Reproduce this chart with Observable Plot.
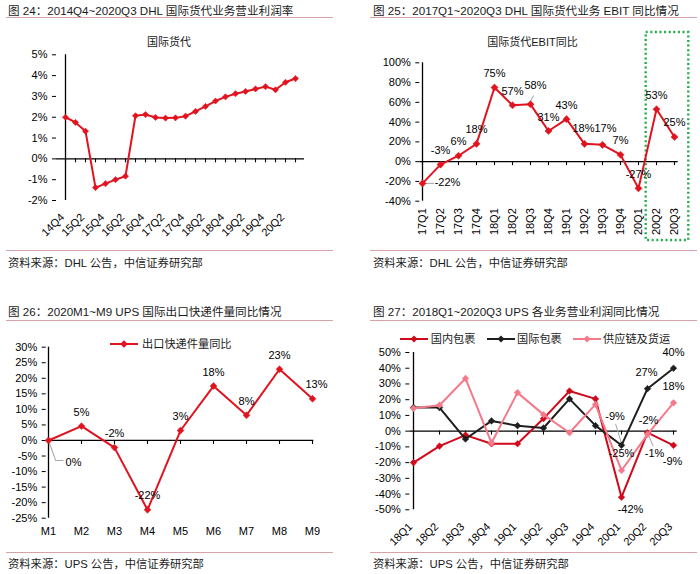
<!DOCTYPE html>
<html><head><meta charset="utf-8">
<script src="https://cdn.jsdelivr.net/npm/d3@7"></script>
<script src="https://cdn.jsdelivr.net/npm/@observablehq/plot@0.6"></script>
<style>
body{margin:0;background:#fff;}
#wrap{position:relative;width:700px;height:574px;overflow:hidden;font-family:"Liberation Sans","Noto Sans CJK SC",sans-serif;color:#1a1a1a;}
.abs{position:absolute;white-space:nowrap;}
.hdr{font-size:11.6px;line-height:14px;}
.rule{position:absolute;height:1.3px;background:#d9a2a8;}
.src{font-size:11.3px;line-height:14px;}
.ttl{font-size:11px;line-height:14px;transform:translateX(-50%);}
.leg{font-size:11.2px;line-height:14px;}
.panel{position:absolute;width:350px;height:287px;}
</style></head>
<body><div id="wrap"></div>
<script>
// ---------- data ----------
const q1 = ["14Q4","15Q1","15Q2","15Q3","15Q4","16Q1","16Q2","16Q3","16Q4","17Q1","17Q2","17Q3","17Q4","18Q1","18Q2","18Q3","18Q4","19Q1","19Q2","19Q3","19Q4","20Q1","20Q2","20Q3"];
const margin1 = [2.0,1.75,1.33,-1.38,-1.19,-1.0,-0.83,2.07,2.13,1.99,1.96,1.97,2.05,2.28,2.52,2.78,2.98,3.13,3.24,3.36,3.47,3.32,3.68,3.86];
const q1Labels = ["14Q4","15Q2","15Q4","16Q2","16Q4","17Q2","17Q4","18Q2","18Q4","19Q2","19Q4","20Q2"];
const y1Ticks = [-2,-1,0,1,2,3,4,5];

const q2 = ["17Q1","17Q2","17Q3","17Q4","18Q1","18Q2","18Q3","18Q4","19Q1","19Q2","19Q3","19Q4","20Q1","20Q2","20Q3"];
const ebit2 = [-22,-3,6,18,75,57,58,31,43,18,17,7,-27,53,25];
const y2Ticks = [-40,-20,0,20,40,60,80,100];

const m3 = ["M1","M2","M3","M4","M5","M6","M7","M8","M9"];
const export3 = [0,4.6,-2.3,-22.3,3.2,17.5,8.1,22.9,13.4];
const y3Ticks = [-25,-20,-15,-10,-5,0,5,10,15,20,25,30];
const series3 = "出口快递件量同比";

const q4 = ["18Q1","18Q2","18Q3","18Q4","19Q1","19Q2","19Q3","19Q4","20Q1","20Q2","20Q3"];
const domestic4 = [-20,-9.5,-2.5,-8,-8,8,25.5,20.5,-42,-1,-9];
const intl4 = [15,15,-5,6.5,3.5,2,20.5,3.5,-9,27,40];
const supply4 = [14.5,16.5,33.5,-7.5,24.5,10.5,-1,17,-25,-2,18];
const series4 = ["国内包裹","国际包裹","供应链及货运"];
const y4Ticks = [-50,-40,-30,-20,-10,0,10,20,30,40,50];

const headers = [
  "图 24：2014Q4~2020Q3 DHL 国际货代业务营业利润率",
  "图 25：2017Q1~2020Q3 DHL 国际货代业务 EBIT 同比情况",
  "图 26：2020M1~M9 UPS 国际出口快递件量同比情况",
  "图 27：2018Q1~2020Q3 UPS 各业务营业利润同比情况"
];
const sources = ["资料来源：DHL 公告，中信证券研究部","资料来源：DHL 公告，中信证券研究部","资料来源：UPS 公告，中信证券研究部","资料来源：UPS 公告，中信证券研究部"];
const titles = ["国际货代","国际货代EBIT同比"];

// ---------- styling ----------
const RED = "#e0131f", RED4 = "#d0091b", BLACK = "#1e1e1e", PINK = "#f47a8a", GREEN = "#22ad4a", GRAY = "#a6a6a6";
const FONT = '"Liberation Sans","Noto Sans CJK SC",sans-serif';
const pct = v => Math.round(v) + "%";
const rows = (cats, vals) => cats.map((c, i) => ({c, v: vals[i]}));

const wrap = document.getElementById("wrap");
function add(html, cls, style) {
  const d = document.createElement("div");
  d.className = cls; d.setAttribute("style", style); d.innerHTML = html;
  wrap.appendChild(d); return d;
}
function panel(left, top, opts, marks) {
  const p = Plot.plot({
    width: 350, height: 287,
    marginLeft: opts.ml, marginRight: opts.mr, marginTop: opts.mt, marginBottom: opts.mb,
    x: {type: "point", domain: opts.xdom, padding: 0},
    y: {domain: opts.ydom},
    style: {fontFamily: FONT, fontSize: "11px", background: "transparent", overflow: "visible", color: "#000"},
    marks
  });
  const d = document.createElement("div");
  d.className = "panel"; d.style.left = left + "px"; d.style.top = top + "px";
  d.appendChild(p); wrap.appendChild(d);
}
function frameMarks(cats, yticks, tickLen, xAxis) {
  return [
    Plot.ruleY([0], {stroke: "#000", strokeWidth: 1.3}),
    Plot.ruleX(cats, {x: d => d, y1: 0, y2: -tickLen, stroke: "#000", strokeWidth: 1.1}),
    Plot.ruleX([cats[0]], {stroke: "#000", strokeWidth: 1.3}),
    Plot.axisY({ticks: yticks, tickFormat: d => d + "%", tickSize: 4, tickPadding: 5, fontSize: 11, label: null}),
    Plot.axisX({tickSize: 0, label: null, fontSize: 11, ...xAxis})
  ];
}
function series(data, color, r) {
  return [
    Plot.line(data, {x: "c", y: "v", stroke: color, strokeWidth: 2}),
    Plot.dot(data, {x: "c", y: "v", symbol: "diamond2", r, fill: color, stroke: color, strokeWidth: 0.5})
  ];
}
function label(data, cat, dx, dy) {
  return Plot.text(data.filter(d => d.c === cat), {x: "c", y: "v", text: d => pct(d.v), dx, dy, fontSize: 11, fill: "#000"});
}
function leader(data, cat, o) {
  return Plot.vector(data.filter(d => d.c === cat), {x: "c", y: "v", anchor: "start", r: 0, stroke: GRAY, strokeWidth: 1, ...o});
}

// ---------- panel 1 ----------
const d1 = rows(q1, margin1);
panel(0, 0, {ml: 56, mr: 46, mt: 54.3, mb: 87, xdom: q1, ydom: [-2, 5]}, [
  ...frameMarks(q1, y1Ticks, 0.19, {ticks: q1Labels, tickRotate: -45, tickPadding: 15, dx: -3}),
  ...series(d1, RED, 2.8)
]);

// ---------- panel 2 ----------
const d2 = rows(q2, ebit2);
const nudge2 = {"17Q1": [25, -1], "18Q3": [5, -19], "19Q2": [-1, -15], "19Q3": [3, -16]};
panel(350, 0, {ml: 69.3, mr: 22.3, mt: 62.3, mb: 86.3, xdom: q2, ydom: [-40, 100]}, [
  ...frameMarks(q2, y2Ticks, 4, {tickRotate: -90, tickPadding: 7}),
  Plot.rect([{a: q2[13], b: q2[14]}], {x1: "a", x2: "b", insetLeft: -10.3, insetRight: -14.3, insetTop: -30.3, insetBottom: -39.3, fill: "none", stroke: GREEN, strokeWidth: 2.4, strokeDasharray: "2,2.6"}),
  leader(d2, "17Q1", {length: 10, rotate: 90, dx: 1}),
  leader(d2, "18Q3", {length: 6, rotate: 28, dy: -3}),
  ...series(d2, RED, 3.2),
  ...q2.map(c => label(d2, c, ...(nudge2[c] || [0, -14])))
]);

// ---------- panel 3 ----------
const d3r = rows(m3, export3);
const nudge3 = {"M1": [25, 22], "M9": [4, -14]};
panel(0, 287, {ml: 45.7, mr: 36.7, mt: 59.7, mb: 56.3, xdom: m3, ydom: [-25, 30]}, [
  ...frameMarks(m3, y3Ticks, 1.3, {tickPadding: 9}),
  leader(d3r, "M1", {length: 18, rotate: 160, dx: 1, dy: 3}),
  leader(d3r, "M1", {length: 7, rotate: 90, dx: 7.3, dy: 20}),
  ...series(d3r, RED, 3.1),
  ...m3.map(c => label(d3r, c, ...(nudge3[c] || [0, -14])))
]);
// legend 3
add(`<svg width="28" height="14"><line x1="0" y1="7" x2="28" y2="7" stroke="${RED}" stroke-width="2"/><path d="M14,3.3L17.7,7L14,10.7L10.3,7Z" fill="${RED}"/></svg>`, "abs", "left:110px;top:337px;");
add(series3, "abs leg", "left:142px;top:337px;");

// ---------- panel 4 ----------
const dd = rows(q4, domestic4), di = rows(q4, intl4), ds = rows(q4, supply4);
panel(350, 287, {ml: 59.3, mr: 23.3, mt: 65, mb: 64.7, xdom: q4, ydom: [-50, 50]}, [
  ...frameMarks(q4, y4Ticks, 2.5, {tickRotate: -45, tickPadding: 15, dx: -3}),
  leader(di, "20Q1", {length: 20, rotate: -17, dy: -2}),
  leader(dd, "20Q2", {length: 14, rotate: 157}),
  ...series(dd, RED4, 3),
  ...series(di, BLACK, 3),
  ...series(ds, PINK, 3),
  label(di, "20Q1", -6.5, -29), label(ds, "20Q1", 0, -17), label(dd, "20Q1", 9, 12),
  label(di, "20Q2", -1, -16), label(ds, "20Q2", 1, -14), label(dd, "20Q2", 7, 21),
  label(di, "20Q3", 0, -16), label(ds, "20Q3", 0, -16), label(dd, "20Q3", -1, 16)
]);
// legend 4
const legCols = [RED4, BLACK, PINK], legX = [400, 486.7, 572.7], legTextX = [430.7, 517, 603];
series4.forEach((s, i) => {
  add(`<svg width="28" height="14"><line x1="0" y1="7" x2="28" y2="7" stroke="${legCols[i]}" stroke-width="2"/><path d="M14,3.5L17.5,7L14,10.5L10.5,7Z" fill="${legCols[i]}"/></svg>`, "abs", `left:${legX[i]}px;top:332.3px;`);
  add(s, "abs leg", `left:${legTextX[i]}px;top:332.3px;`);
});

// ---------- headers, titles, sources ----------
const hx = [8, 373, 8, 373], hy = [3.5, 3.5, 305, 305], lx = [6, 370, 6, 370], ly = [17, 17, 320, 320];
const sy = [255.5, 255.5, 557, 557], sly = [249.5, 249.5, 552.2, 552.2];
headers.forEach((h, i) => {
  add(h, "abs hdr", `left:${hx[i]}px;top:${hy[i]}px;`);
  add("", "rule", `left:${lx[i]}px;top:${ly[i]}px;width:327px;`);
  add(sources[i], "abs src", `left:${hx[i]}px;top:${sy[i]}px;`);
  add("", "rule", `left:${lx[i]}px;top:${sly[i]}px;width:327px;`);
});
add(titles[0], "abs ttl", "left:169px;top:35px;");
add(titles[1], "abs ttl", "left:532.5px;top:35px;");
</script></body></html>
